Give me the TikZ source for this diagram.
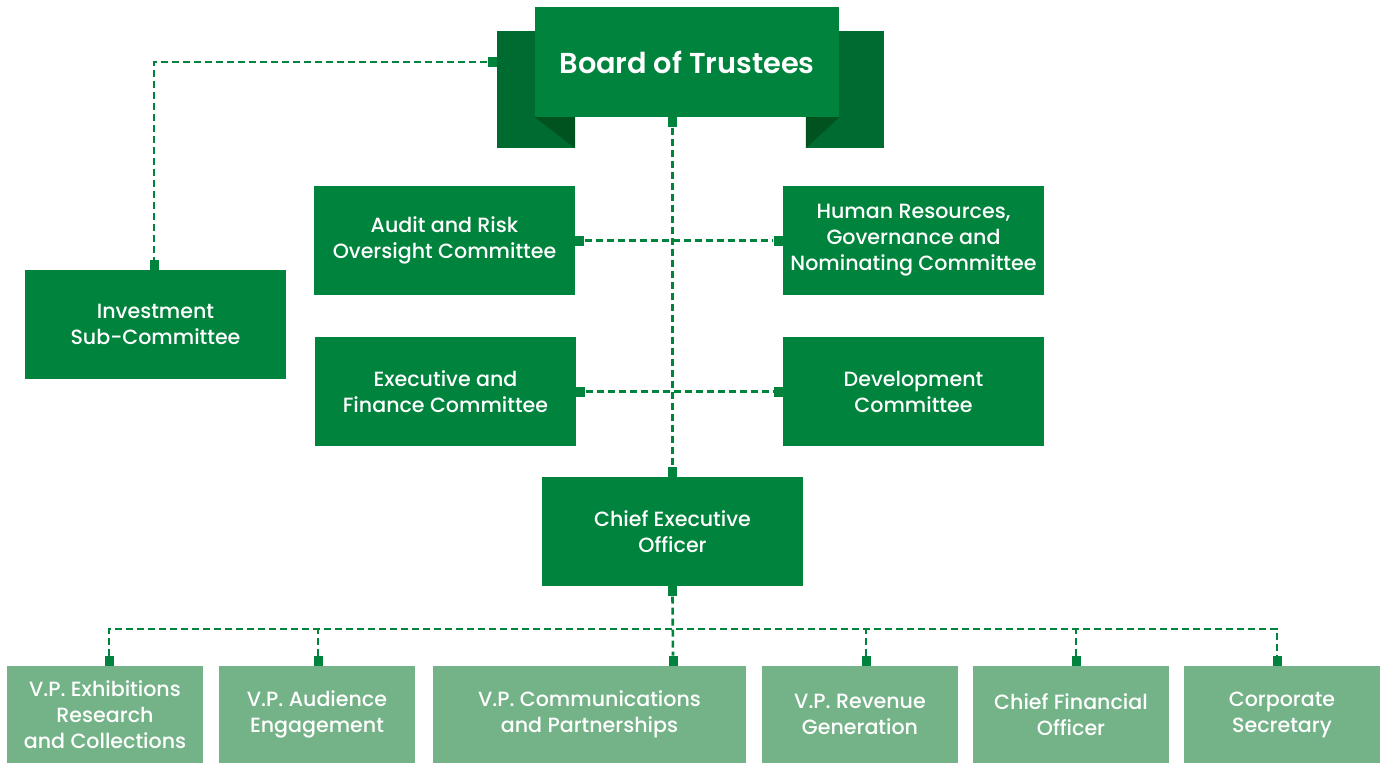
\documentclass[tikz,border=0pt]{standalone}
\usepackage{fontspec}
\setmainfont{Poppins}[BoldFont={Poppins Medium}]
\newfontfamily\titlefont{Poppins SemiBold}
\usetikzlibrary{calc}
\definecolor{gmain}{RGB}{0,132,61}
\definecolor{gback}{RGB}{0,107,49}
\definecolor{gfold}{RGB}{0,82,30}
\definecolor{glight}{RGB}{116,179,136}
\begin{document}
\begin{tikzpicture}[x=1pt,y=-1pt,
  box/.style={fill=gmain, text=white, align=center, inner sep=0pt, minimum width=261pt, minimum height=109pt, font=\fontsize{20.6}{26}\selectfont\bfseries},
  lbox/.style={fill=glight, text=white, align=center, inner sep=0pt, minimum width=196pt, minimum height=97pt, font=\fontsize{20.6}{26}\selectfont\bfseries},
  back/.style={fill=gback, inner sep=0pt, minimum width=78pt, minimum height=117pt},
  mk/.style={fill=gmain, inner sep=0pt, minimum width=9pt, minimum height=10pt},
  conn/.style={draw=gmain, line width=2.6pt, dash pattern=on 7pt off 4pt}
]
\useasboundingbox (0,0) rectangle (1384,763);
% ribbon
\node[back] (bkl) at (536,89.5) {};
\node[back] (bkr) at (845,89.5) {};
\node[fill=gmain, inner sep=0pt, minimum width=304pt, minimum height=110pt, text=white, font=\fontsize{28.8}{32}\titlefont] (board) at (687,62) {Board of Trustees};
\fill[gfold] (board.south west) -- (bkl.south east |- board.south) -- (bkl.south east) -- cycle;
\fill[gfold] (board.south east) -- (bkr.south west |- board.south) -- (bkr.south west) -- cycle;
% committees
\node[box] (inv) at (155.5,324.5) {Investment\\Sub-Committee};
\node[box] (audit) at (444.5,240.5) {Audit and Risk\\Oversight Committee};
\node[box] (hr) at (913.5,240.5) {Human Resources,\\Governance and\\Nominating Committee};
\node[box] (exec) at (445.5,391.5) {Executive and\\Finance Committee};
\node[box] (dev) at (913.5,391.5) {Development\\Committee};
\node[box] (ceo) at (672.5,531.5) {Chief Executive\\Officer};
% bottom row
\node[lbox] (vp1) at (105,714.5) {V.P. Exhibitions\\Research\\and Collections};
\node[lbox] (vp2) at (317,714.5) {V.P. Audience\\Engagement};
\node[lbox, minimum width=313pt] (vp3) at (589.5,714.5) {V.P. Communications\\and Partnerships};
\node[lbox] (vp4) at (860,714.5) {V.P. Revenue\\Generation};
\node[lbox] (cfo) at (1071,714.5) {Chief Financial\\Officer};
\node[lbox] (cs) at (1282,714.5) {Corporate\\Secretary};
% markers
\node[mk, anchor=east] (mb1) at (bkl.west |- board.center) {};
\node[mk, anchor=south] (mi) at (154,270) {};
\node[mk, anchor=north] (mbs) at (board.south -| ceo.center) {};
\node[mk, anchor=south] (mct) at (ceo.north) {};
\node[mk, anchor=west] (ma) at (audit.east) {};
\node[mk, anchor=east] (mh) at (hr.west) {};
\node[mk, anchor=west] (me) at (exec.east) {};
\node[mk, anchor=east] (md) at (dev.west) {};
\node[mk, anchor=north] (mcs) at (ceo.south) {};
\node[mk, anchor=south] (m1) at (109,666) {};
\node[mk, anchor=south] (m2) at (318,666) {};
\node[mk, anchor=south] (m3) at (673,666) {};
\node[mk, anchor=south] (m4) at (866,666) {};
\node[mk, anchor=south] (m5) at (1076,666) {};
\node[mk, anchor=south] (m6) at (1277,666) {};
\coordinate (bus) at (673,629);
% connectors
\draw[conn] (mb1.west) -| (mi.north);
\draw[conn] (mbs.south) -- (mct.north);
\draw[conn] (ma.east) -- (mh.west);
\draw[conn] (me.east) -- (md.west);
\draw[conn] (mcs.south) -- (m3.north);
\draw[conn] (m1.north) |- (m6.north |- bus) -- (m6.north);
\draw[conn] (m2.north) -- (m2.north |- bus);
\draw[conn] (m4.north) -- (m4.north |- bus);
\draw[conn] (m5.north) -- (m5.north |- bus);
\end{tikzpicture}
\end{document}
